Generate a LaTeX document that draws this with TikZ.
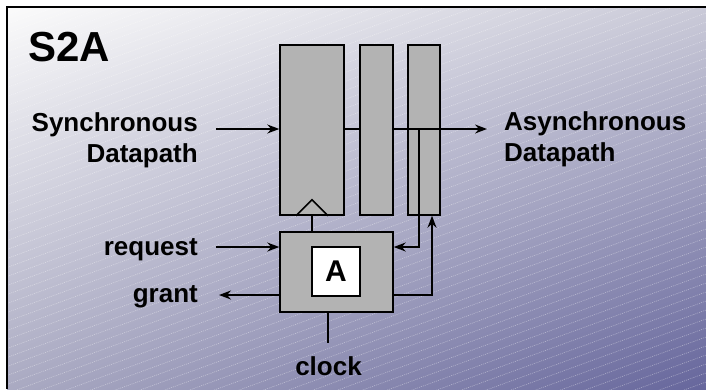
\documentclass[tikz,border=0pt]{standalone}
\usepackage{fontspec}
\setmainfont{Liberation Sans}
\usetikzlibrary{arrows.meta,calc,shadings}
\definecolor{bgul}{HTML}{FBFBFB}
\definecolor{bgur}{HTML}{CACAD8}
\definecolor{bgll}{HTML}{AAAAC2}
\definecolor{bglr}{HTML}{66669C}
\definecolor{regfill}{HTML}{B3B3B3}
\tikzset{
  wire/.style={line width=1.5pt},
  arr/.style={wire,-{Stealth[length=12pt,width=9pt,inset=4pt]}},
  regbox/.style={draw,line width=1.5pt,fill=regfill,rectangle,inner sep=0pt,minimum height=170pt},
  ctrlbox/.style={draw,line width=1.5pt,fill=regfill,rectangle,inner sep=0pt,minimum width=113pt,minimum height=80pt},
  innerbox/.style={draw,line width=1.5pt,fill=white,rectangle,inner sep=0pt,minimum width=48pt,minimum height=49pt,font=\bfseries\fontsize{30}{34}\selectfont},
  lbl/.style={inner sep=0pt,font=\bfseries\fontsize{26}{31}\selectfont},
  hatch/.style={white,opacity=0.4,line width=0.6pt,dash pattern=on 1pt off 1pt}
}
\begin{document}
\begin{tikzpicture}[x=1pt,y=-1pt]
\useasboundingbox (0,0) rectangle (706,389);
\fill[white] (0,0) rectangle (706,389);
\shade[upper left=bgul,upper right=bgur,lower left=bgll,lower right=bglr] (7,7) rectangle (706,389);
\begin{scope}
  \clip (7,7) rectangle (706,389);
  \foreach \c in {0,9,...,660} \draw[hatch] (0,\c) -- (706,\c-257);
\end{scope}
\draw[line width=2pt] (7,389) -- (7,7) -- (706,7);

\node[lbl,anchor=base west,font=\bfseries\fontsize{42}{46}\selectfont] (title) at (28,61) {S2A};

\node[regbox,minimum width=64pt] (reg1) at (312,130) {};
\node[regbox,minimum width=33pt] (reg2) at (376.5,130) {};
\node[regbox,minimum width=32pt] (reg3) at (424,130) {};
\node[ctrlbox] (ctrl) at (336.5,272) {};
\node[innerbox] (inner) at (336,271.5) {A};

\draw[wire] ($(reg1.south)+(-16,0)$) -- ($(reg1.south)+(0,-16)$) -- ($(reg1.south)+(16,0)$);
\draw[wire] (reg1.south) -- (reg1.south |- ctrl.north);

\coordinate (syncin) at (216,129);
\coordinate (asyncout) at (487,129);
\coordinate (tap) at (419,129);
\coordinate (ackin) at (419,247);
\coordinate (reqin) at (216,247);
\coordinate (grantout) at (219,295);
\coordinate (donecorner) at (432,295);
\coordinate (clkend) at (328,343);

\draw[arr] (syncin) -- (reg1.west |- syncin);
\draw[wire] (reg1.east |- syncin) -- (reg2.west |- syncin);
\draw[arr] (reg2.east |- syncin) -- (asyncout);
\draw[arr] (tap) -- (ackin) -- (ctrl.east |- ackin);
\draw[arr] (reqin) -- (ctrl.west |- reqin);
\draw[arr] (ctrl.west |- grantout) -- (grantout);
\draw[arr] (ctrl.east |- donecorner) -- (donecorner) -- (donecorner |- reg3.south);
\draw[wire] (clkend |- ctrl.south) -- (clkend);

\node[lbl,anchor=east,align=right] (synclbl) at (198,140) {Synchronous\\Datapath};
\node[lbl,anchor=west,align=left] (asynclbl) at (504,139) {Asynchronous\\Datapath};
\node[lbl,anchor=base east] (reqlbl) at (198,255) {request};
\node[lbl,anchor=base east] (grantlbl) at (198,302) {grant};
\node[lbl,anchor=base] (clklbl) at (328.5,375) {clock};
\end{tikzpicture}
\end{document}
